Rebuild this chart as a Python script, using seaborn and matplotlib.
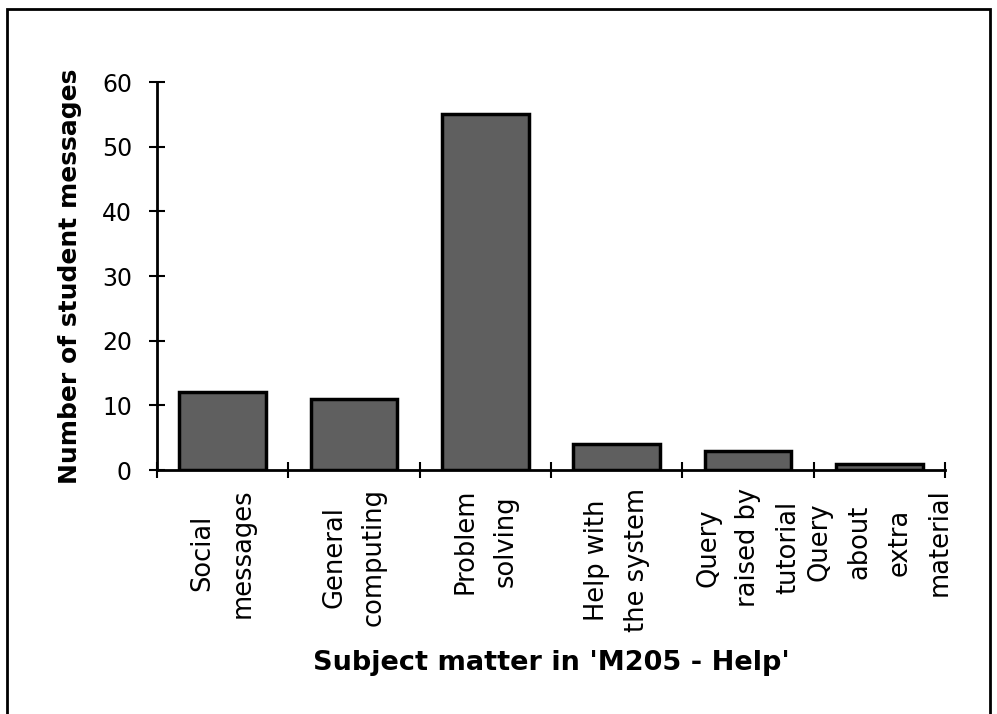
import matplotlib
matplotlib.use("Agg")
import matplotlib.pyplot as plt
import seaborn as sns
import pandas as pd
from matplotlib.patches import Rectangle

categories = ["Social\nmessages", "General\ncomputing", "Problem\nsolving",
              "Help with\nthe system", "Query\nraised by\ntutorial",
              "Query\nabout\nextra\nmaterial"]
values = [12, 11, 55, 4, 3, 1]
yticks = [0, 10, 20, 30, 40, 50, 60]
ylabel = "Number of student messages"
xlabel = "Subject matter in 'M205 - Help'"

sns.set_style("ticks")
plt.rcParams['font.family'] = ['DejaVu Sans']
plt.rcParams['text.color'] = 'black'
plt.rcParams['axes.labelcolor'] = 'black'
plt.rcParams['xtick.color'] = 'black'
plt.rcParams['ytick.color'] = 'black'

df = pd.DataFrame({"cat": categories, "val": values})

fig = plt.figure(figsize=(9.97, 7.14), dpi=100)
ax = fig.add_axes([157/997, 1 - 470/714, (945-157)/997, (470-82)/714])

sns.barplot(data=df, x="cat", y="val", ax=ax, color="#5f5f5f", saturation=1,
            edgecolor="black", linewidth=2.5, width=0.66)

ax.set_ylim(0, 60)
ax.set_xlim(-0.5, len(categories) - 0.5)
ax.set_yticks(yticks)
ax.set_yticklabels([str(t) for t in yticks], fontsize=17)
ax.tick_params(axis='y', direction='inout', length=12, width=1.5, pad=12,
               colors='black', labelcolor='black')

ax.set_xticks(range(len(categories)))
ax.set_xticklabels(categories, rotation=90, fontsize=18.5, ha='center', va='top',
                   multialignment='center', linespacing=1.7, color='black')
ax.tick_params(axis='x', which='major', length=0, pad=13)
ax.set_xticks([i - 0.5 for i in range(len(categories) + 1)], minor=True)
ax.tick_params(axis='x', which='minor', direction='inout', length=12, width=1.5, colors='black')

for s in ['top', 'right']:
    ax.spines[s].set_visible(False)
for s in ['left', 'bottom']:
    ax.spines[s].set_linewidth(2)
    ax.spines[s].set_color('black')

ax.set_ylabel(ylabel, fontsize=18, fontweight='bold', labelpad=14, color='black')
ax.set_xlabel(xlabel, fontsize=19.5, fontweight='bold', labelpad=13, color='black')

fig.patches.append(Rectangle((7/997, -0.02), (990-7)/997, 1 - 9/714 + 0.02,
                             transform=fig.transFigure, fill=False,
                             edgecolor='black', linewidth=2))

fig.savefig("out.png", dpi=100)
